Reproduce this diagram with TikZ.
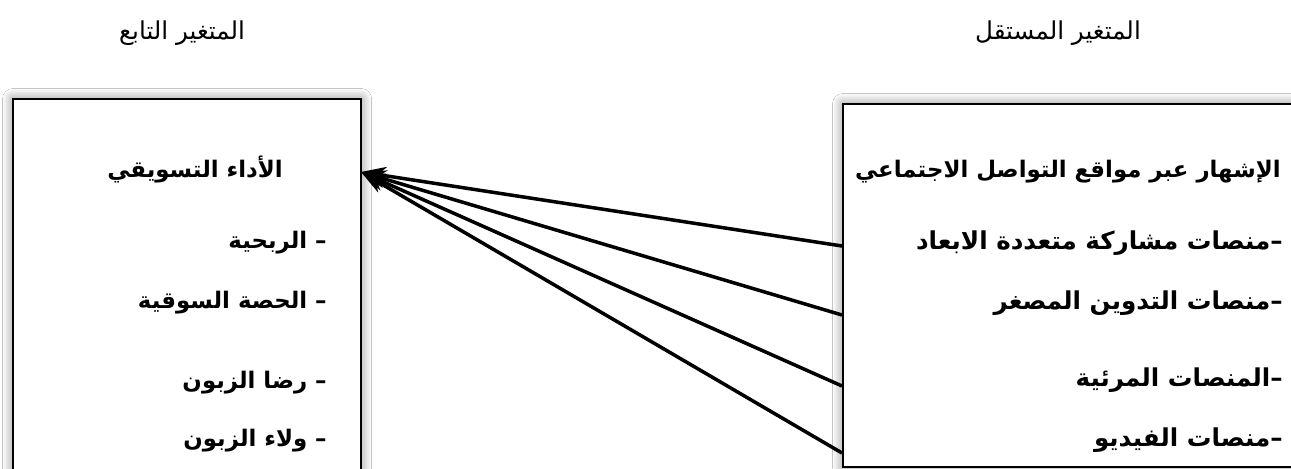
\documentclass[tikz,border=0pt]{standalone}
\usepackage{fontspec}
\newfontfamily\arabicfont[Script=Arabic]{DejaVu Sans}
\TeXXeTstate=1
\usetikzlibrary{arrows.meta,shadows.blur}
\tikzset{
  vb box/.style={draw=black, line width=1.2pt, fill=white,
                 blur shadow={shadow xshift=0pt, shadow yshift=0pt, shadow blur radius=6pt, shadow blur steps=12, shadow opacity=50}},
  vb head/.style={font=\arabicfont\fontsize{14}{16}\selectfont, inner sep=0pt},
  vb item/.style={font=\arabicfont\bfseries\fontsize{14}{16}\selectfont, inner sep=0pt, anchor=east},
  vb small/.style={vb item, font=\arabicfont\bfseries\fontsize{13}{15}\selectfont},
  vb arr/.style={-{Stealth[length=5mm, width=3.6mm]}, line width=2pt, black},
}
\begin{document}
\begin{tikzpicture}[x=1cm, y=1cm]
  \fill[white] (0,0) rectangle (25.82,9.38);
  \useasboundingbox (0,0) rectangle (25.82,9.38);
  % headings
  \node[vb head] (hdep) at (3.64,8.72) {\beginR المتغير التابع\endR};
  \node[vb head] (hind) at (21.16,8.72) {\beginR المتغير المستقل\endR};
  % the two boxes
  \node[vb box, minimum width=6.96cm, minimum height=7.64cm, anchor=north west] (dep) at (0.24,7.42) {};
  \node[vb box, minimum width=9.16cm, minimum height=7.26cm, anchor=north west] (ind) at (16.84,7.32) {};
  % dependent variable
  \node[vb small, anchor=center] (perf) at (3.90,5.98) {\beginR الأداء التسويقي\endR};
  \node[vb small] (d1) at (6.54,4.52) {\beginR – الربحية\endR};
  \node[vb small] (d2) at (6.54,3.32) {\beginR – الحصة السوقية\endR};
  \node[vb small] (d3) at (6.54,1.72) {\beginR – رضا الزبون\endR};
  \node[vb small] (d4) at (6.54,0.56) {\beginR – ولاء الزبون\endR};
  % independent variable
  \node[vb small] (adv) at (25.62,5.94) {\beginR الإشهار عبر مواقع التواصل الاجتماعي\endR};
  \node[vb item] (i1) at (25.66,4.52) {\beginR –منصات مشاركة متعددة الابعاد\endR};
  \node[vb item] (i2) at (25.66,3.32) {\beginR –منصات التدوين المصغر\endR};
  \node[vb item] (i3) at (25.66,1.78) {\beginR –المنصات المرئية\endR};
  \node[vb item] (i4) at (25.66,0.58) {\beginR –منصات الفيديو\endR};
  % arrows
  \coordinate (tip) at (7.22,5.94);
  \foreach \i/\y in {1/4.46, 2/3.08, 3/1.66, 4/0.32} {
    \coordinate (s\i) at (16.84,\y);
    \draw[vb arr] (s\i) -- (tip);
  }
\end{tikzpicture}
\end{document}
